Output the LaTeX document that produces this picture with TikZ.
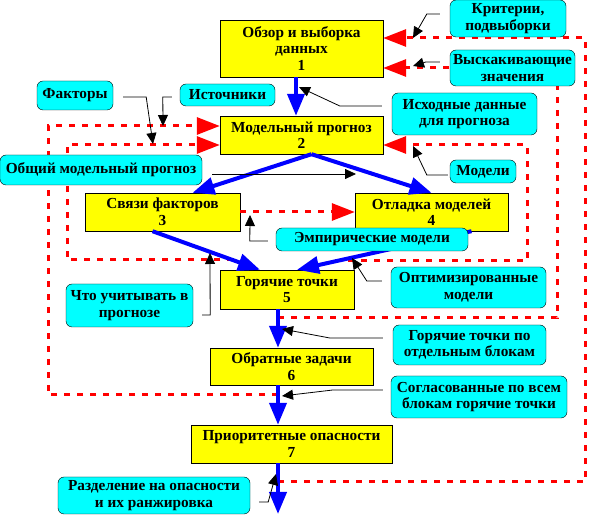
\documentclass[tikz,border=0pt]{standalone}
\usepackage{fontspec}
\setmainfont{Liberation Serif}
\usepackage{tikz}
\usetikzlibrary{positioning,arrows.meta}
\definecolor{Zhelt}{HTML}{FFFF00}
\definecolor{Goluboy}{HTML}{00FFFF}
\definecolor{Sin}{HTML}{0000FF}
\definecolor{Kras}{HTML}{FF0000}

\begin{document}
\begin{tikzpicture}[x=1pt,y=-1pt,
  every node/.style={font=\fontsize{15.3}{16.5}\selectfont\bfseries},
  blok/.style={draw,fill=Zhelt,align=center,inner sep=1pt},
  vynoska/.style={draw,fill=Goluboy,rounded corners=6pt,align=center,inner sep=0.5pt},
  potok/.style={-{Triangle[length=22pt,width=17pt]},Sin,line width=4pt},
  obrat/.style={-{Triangle[length=23pt,width=17pt]},Kras,line width=3pt,dash pattern=on 6pt off 7pt},
  ukaz/.style={-{Triangle[length=11pt,width=10pt]},black,line width=0.8pt}]
  \fill[white] (0,0) rectangle (590,518);
  \useasboundingbox (0,0) rectangle (590,518);
  % main chain
  \node[blok,minimum width=163pt,minimum height=57pt] (obzor) at (301.5,48.5) {Обзор и выборка\\данных\\1};
  \node[blok,minimum width=163pt,minimum height=38pt] (prognoz) at (301.5,135) {Модельный прогноз\\2};
  \node[blok,minimum width=155pt,minimum height=38pt] (svyazi) at (162.5,212) {Связи факторов\\3};
  \node[blok,minimum width=153pt,minimum height=38pt] (otladka) at (431.5,212) {Отладка моделей\\4};
  \node[blok,minimum width=134pt,minimum height=39pt] (goryach) at (287,289.5) {Горячие точки\\5};
  \node[blok,minimum width=163pt,minimum height=37pt] (obratn) at (291.5,366.5) {Обратные задачи\\6};
  \node[blok,minimum width=201pt,minimum height=38pt] (prior) at (291.5,444) {Приоритетные опасности\\7};
  \coordinate (vyhod) at (278,514);
  % feedback loops
  \coordinate (v3) at (233,260);
  \coordinate (v4) at (335,261);
  \coordinate (v5) at (278,318);
  \coordinate (v6) at (278,395);
  \coordinate (v7) at (278,482);
  \draw[obrat] (v7) -- (585,482) |- ([yshift=10.5pt]obzor.east);
  \draw[obrat] (v5) -- (557,318) |- ([yshift=-19.5pt]obzor.east);
  \draw[obrat] (v4) -- (527,261) |- ([yshift=-10pt]prognoz.east);
  \draw[obrat] (v6) -- (48,395) |- ([yshift=9pt]prognoz.west);
  \draw[obrat] (v3) -- (67,260) |- ([yshift=-10pt]prognoz.west);
  \draw[obrat] (svyazi.east) -- (otladka.west);
  % flow
  \draw[potok] ([xshift=-5.5pt]obzor.south) -- ([xshift=-5.5pt]prognoz.north);
  \draw[potok] ([xshift=10pt]prognoz.south) -- ([xshift=30pt]svyazi.north);
  \draw[potok] ([xshift=10pt]prognoz.south) -- (otladka.north);
  \draw[potok] ([xshift=-10pt]svyazi.south) -- ([xshift=-27pt]goryach.north);
  \draw[potok] ([xshift=40pt]otladka.south) -- ([xshift=10pt]goryach.north);
  \draw[potok] ([xshift=-9pt]goryach.south) -- ([xshift=-13.5pt]obratn.north);
  \draw[potok] ([xshift=-13.5pt]obratn.south) -- ([xshift=-13.5pt]prior.north);
  \draw[potok] ([xshift=-13.5pt]prior.south) -- (vyhod);
  % callouts
  \node[vynoska,minimum width=116pt,minimum height=37pt] (kriterii) at (508,18.5) {Критерии,\\подвыборки};
  \node[vynoska,minimum width=125pt,minimum height=36pt] (vyskak) at (512.5,68) {Выскакивающие\\значения};
  \node[vynoska,minimum width=145pt,minimum height=42pt] (ishod) at (464.5,114) {Исходные данные\\для прогноза};
  \node[vynoska,minimum width=66pt,minimum height=23pt] (modeli) at (483,171.5) {Модели};
  \node[vynoska,minimum width=76pt,minimum height=29pt] (faktory) at (75,95.5) {Факторы};
  \node[vynoska,minimum width=95pt,minimum height=22pt] (istochn) at (227.5,95) {Источники};
  \node[vynoska,minimum width=202pt,minimum height=30pt] (obshiy) at (101,170) {Общий модельный прогноз};
  \node[vynoska,minimum width=192pt,minimum height=23pt] (empir) at (372,239.5) {Эмпирические модели};
  \node[vynoska,minimum width=155pt,minimum height=41pt] (optim) at (468.5,287.5) {Оптимизированные\\модели};
  \node[vynoska,minimum width=127pt,minimum height=43pt] (chto) at (129.5,305.5) {Что учитывать в\\прогнозе};
  \node[vynoska,minimum width=153pt,minimum height=40pt] (gorblok) at (469.5,345) {Горячие точки по\\отдельным блокам};
  \node[vynoska,minimum width=176pt,minimum height=42pt] (soglas) at (479,397) {Согласованные по всем\\блокам горячие точки};
  \node[vynoska,minimum width=192pt,minimum height=37pt] (razdel) at (154,495.5) {Разделение на опасности\\и их ранжировка};
  % pointers
  \coordinate (u1) at (413,38);
  \coordinate (u2) at (413,66);
  \coordinate (u3) at (299,87);
  \coordinate (u4) at (413,146);
  \coordinate (u5) at (153,144);
  \coordinate (u6) at (163,126);
  \coordinate (u7) at (356,174);
  \coordinate (u8) at (250,215);
  \coordinate (u9) at (352,258);
  \coordinate (u10) at (210,253);
  \coordinate (u11) at (282,329);
  \coordinate (u12) at (282,396);
  \coordinate (u13) at (276,474);
  \draw[ukaz] ([xshift=-10pt,yshift=4.5pt]kriterii.west) -- ++(-13,0) -- (u1);
  \draw[ukaz] ([xshift=-10pt,yshift=6pt]vyskak.west) -- ++(-14,0) -- (u2);
  \draw[ukaz] ([xshift=-10pt,yshift=8pt]ishod.west) -- ++(-42,0) -- (u3);
  \draw[ukaz] ([xshift=-2pt,yshift=-3.5pt]modeli.west) -- ++(-21,0) -- (u4);
  \draw[ukaz] ([xshift=10pt,yshift=-1.5pt]faktory.east) -- ++(23,0) -- (u5);
  \draw[ukaz] ([xshift=-8pt,yshift=-2pt]istochn.west) -- ++(-9,0) -- (u6);
  \draw[ukaz] ([xshift=10pt,yshift=-4pt]obshiy.east) -- (u7);
  \draw[ukaz] ([xshift=-8pt,yshift=-1.5pt]empir.west) -- ++(-18,0) -- (u8);
  \draw[ukaz] ([xshift=-9pt,yshift=6.5pt]optim.west) -- ++(-15,0) -- (u9);
  \draw[ukaz] ([xshift=9pt,yshift=-9.5pt]chto.east) -- ++(8,0) -- (u10);
  \draw[ukaz] ([xshift=-10pt,yshift=7pt]gorblok.west) -- ++(-53,0) -- (u11);
  \draw[ukaz] ([xshift=-8pt,yshift=7pt]soglas.west) -- ++(-50,0) -- (u12);
  \draw[ukaz] ([xshift=9pt,yshift=-6.5pt]razdel.east) -- ++(9,0) -- (u13);
\end{tikzpicture}
\end{document}
